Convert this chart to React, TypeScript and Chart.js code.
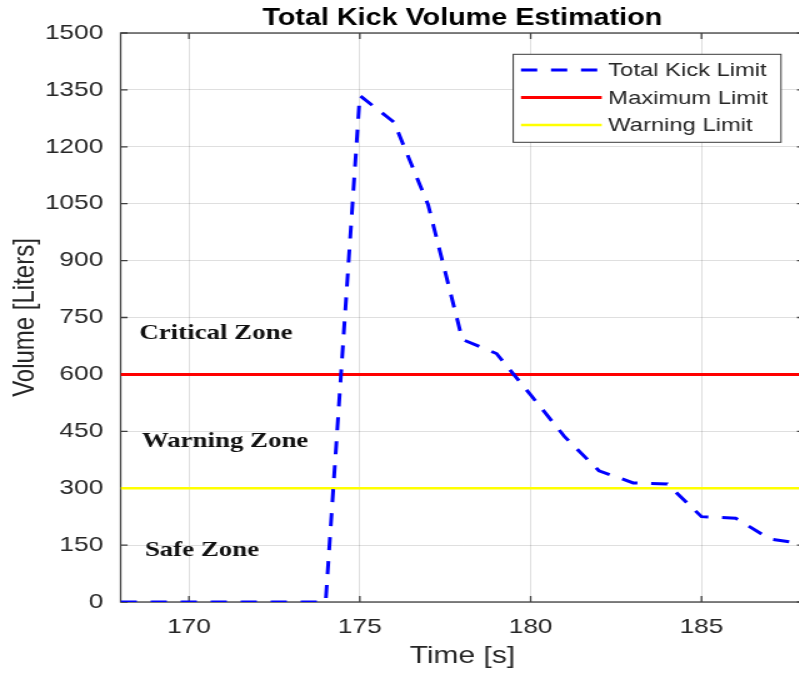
import React, { useEffect, useRef } from 'react';
import { Chart, registerables } from 'chart.js';

Chart.register(...registerables);

// Time axis samples [s]
const timeSeconds = [168, 169, 170, 171, 172, 173, 174, 175, 176, 177, 178, 179, 180, 181, 182, 183, 184, 185, 186, 187, 188];
// Estimated total kick volume [L]
const totalKickVolume = [0, 0, 0, 0, 0, 0, 0, 1335, 1265, 1047, 692, 655, 546, 435, 346, 314, 311, 225, 221, 166, 153];
// Limits [L]
const maximumLimit = 600;
const warningLimit = 300;

const xTickValues = [170, 175, 180, 185];
const yTickValues = [0, 150, 300, 450, 600, 750, 900, 1050, 1200, 1350, 1500];

const seriesNames = ['Total Kick Limit', 'Maximum Limit', 'Warning Limit'];

// Zone annotations, anchored in data units (left edge, vertical centre)
const zoneLabels = [
  { text: 'Critical Zone', x: 168.55, y: 708 },
  { text: 'Warning Zone', x: 168.62, y: 422 },
  { text: 'Safe Zone', x: 168.71, y: 136 },
];

const SANS = '"Liberation Sans", Arial, Helvetica, sans-serif';
const SERIF = '"Liberation Serif", "Times New Roman", serif';
const AXIS_COLOR = '#404040';
const TEXT_COLOR = '#262626';

const LOGICAL_W = 650;
const LOGICAL_H = 673;
const STRETCH_X = 1.25;

const decorPlugin = {
  id: 'matlabDecor',
  beforeDatasetsDraw(chart: any) {
    const { ctx, chartArea: ca, scales } = chart;
    ctx.save();
    ctx.strokeStyle = AXIS_COLOR;
    ctx.lineWidth = 1.3;
    ctx.strokeRect(ca.left, ca.top, ca.right - ca.left, ca.bottom - ca.top);
    // inward tick marks on all four sides
    ctx.beginPath();
    for (const v of xTickValues) {
      const px = scales.x.getPixelForValue(v);
      ctx.moveTo(px, ca.bottom);
      ctx.lineTo(px, ca.bottom - 6);
      ctx.moveTo(px, ca.top);
      ctx.lineTo(px, ca.top + 6);
    }
    for (const v of yTickValues) {
      const py = scales.y.getPixelForValue(v);
      ctx.moveTo(ca.left, py);
      ctx.lineTo(ca.left + 5.6, py);
      ctx.moveTo(ca.right, py);
      ctx.lineTo(ca.right - 5.6, py);
    }
    ctx.stroke();
    ctx.restore();
  },
  afterDatasetsDraw(chart: any) {
    const { ctx, chartArea: ca, scales } = chart;
    ctx.save();
    // zone annotations
    ctx.font = `bold 21.5px ${SERIF}`;
    ctx.fillStyle = '#111111';
    ctx.textAlign = 'left';
    ctx.textBaseline = 'middle';
    for (const z of zoneLabels) {
      ctx.fillText(z.text, scales.x.getPixelForValue(z.x), scales.y.getPixelForValue(z.y));
    }
    // legend box
    const boxRight = ca.right - 18.4;
    const boxW = 214.2;
    const boxLeft = boxRight - boxW;
    const boxTop = ca.top + 21.3;
    const boxH = 88;
    ctx.fillStyle = '#ffffff';
    ctx.fillRect(boxLeft, boxTop, boxW, boxH);
    ctx.strokeStyle = '#3a3a3a';
    ctx.lineWidth = 1;
    ctx.strokeRect(boxLeft, boxTop, boxW, boxH);
    ctx.font = `19px ${SANS}`;
    ctx.textBaseline = 'middle';
    chart.data.datasets.forEach((ds: any, i: number) => {
      const y = boxTop + 15.7 + i * 27.5;
      ctx.save();
      ctx.strokeStyle = ds.borderColor;
      ctx.lineWidth = ds.borderWidth;
      ctx.setLineDash(ds.borderDash || []);
      ctx.beginPath();
      ctx.moveTo(boxLeft + 6.2, y);
      ctx.lineTo(boxLeft + 70.8, y);
      ctx.stroke();
      ctx.restore();
      ctx.fillStyle = TEXT_COLOR;
      ctx.fillText(ds.label, boxLeft + 76, y + 1);
    });
    ctx.restore();
  },
};

export default function App() {
  const canvasRef = useRef<HTMLCanvasElement | null>(null);

  useEffect(() => {
    if (!canvasRef.current) return;
    const xMin = timeSeconds[0];
    const xMax = timeSeconds[timeSeconds.length - 1];
    const chart = new Chart(canvasRef.current, {
      type: 'line',
      data: {
        datasets: [
          {
            label: seriesNames[0],
            data: timeSeconds.map((t, i) => ({ x: t, y: totalKickVolume[i] })),
            borderColor: '#0000ff',
            borderWidth: 3,
            borderDash: [13, 11],
            pointRadius: 0,
            tension: 0,
          },
          {
            label: seriesNames[1],
            data: [{ x: xMin, y: maximumLimit }, { x: xMax, y: maximumLimit }],
            borderColor: '#ff0000',
            borderWidth: 3,
            pointRadius: 0,
          },
          {
            label: seriesNames[2],
            data: [{ x: xMin, y: warningLimit }, { x: xMax, y: warningLimit }],
            borderColor: '#ffff00',
            borderWidth: 2.6,
            pointRadius: 0,
          },
        ],
      },
      options: {
        responsive: false,
        animation: false,
        devicePixelRatio: 1,
        layout: { padding: { left: 0, right: 6.8, top: 0, bottom: 0 } },
        plugins: {
          legend: { display: false },
          tooltip: { enabled: false },
          title: {
            display: true,
            text: 'Total Kick Volume Estimation',
            fullSize: false,
            color: '#000000',
            font: { family: SANS, size: 23, weight: 'bold', lineHeight: 1.1 },
            padding: { top: 6, bottom: 1.7 },
          },
        },
        scales: {
          x: {
            type: 'linear',
            min: xMin,
            max: xMax,
            afterBuildTicks: (scale: any) => {
              scale.ticks = xTickValues.map((v) => ({ value: v }));
            },
            afterFit: (scale: any) => {
              scale.height = 71;
            },
            ticks: {
              color: TEXT_COLOR,
              font: { family: SANS, size: 21 },
              padding: 12.4,
              maxRotation: 0,
              callback: (v: any) => String(v),
            },
            grid: { color: 'rgba(38,38,38,0.15)', lineWidth: 1, drawTicks: false },
            border: { display: false },
            title: {
              display: true,
              text: 'Time [s]',
              color: TEXT_COLOR,
              font: { family: SANS, size: 24 },
              padding: { top: 0, bottom: 2.2 },
            },
          },
          y: {
            type: 'linear',
            min: 0,
            max: 1500,
            afterBuildTicks: (scale: any) => {
              scale.ticks = yTickValues.map((v) => ({ value: v }));
            },
            afterFit: (scale: any) => {
              scale.width = 96.5;
            },
            ticks: {
              color: TEXT_COLOR,
              font: { family: SANS, size: 21 },
              padding: 13.9,
              callback: (v: any) => String(v),
            },
            grid: { color: 'rgba(38,38,38,0.15)', lineWidth: 1, drawTicks: false },
            border: { display: false },
            title: {
              display: true,
              text: 'Volume [Liters]',
              color: TEXT_COLOR,
              font: { family: SANS, size: 24 },
              padding: { top: 6, bottom: 0 },
            },
          },
        },
      },
      plugins: [decorPlugin],
    } as any);
    return () => chart.destroy();
  }, []);

  return (
    <div
      style={{
        position: 'fixed',
        left: 0,
        top: 0,
        width: 799,
        height: 673,
        overflow: 'hidden',
        background: '#ffffff',
      }}
    >
      <div
        style={{
          width: LOGICAL_W,
          height: LOGICAL_H,
          transform: `scaleX(${STRETCH_X})`,
          transformOrigin: '0 0',
        }}
      >
        <canvas ref={canvasRef} width={LOGICAL_W} height={LOGICAL_H} style={{ display: 'block' }} />
      </div>
    </div>
  );
}
